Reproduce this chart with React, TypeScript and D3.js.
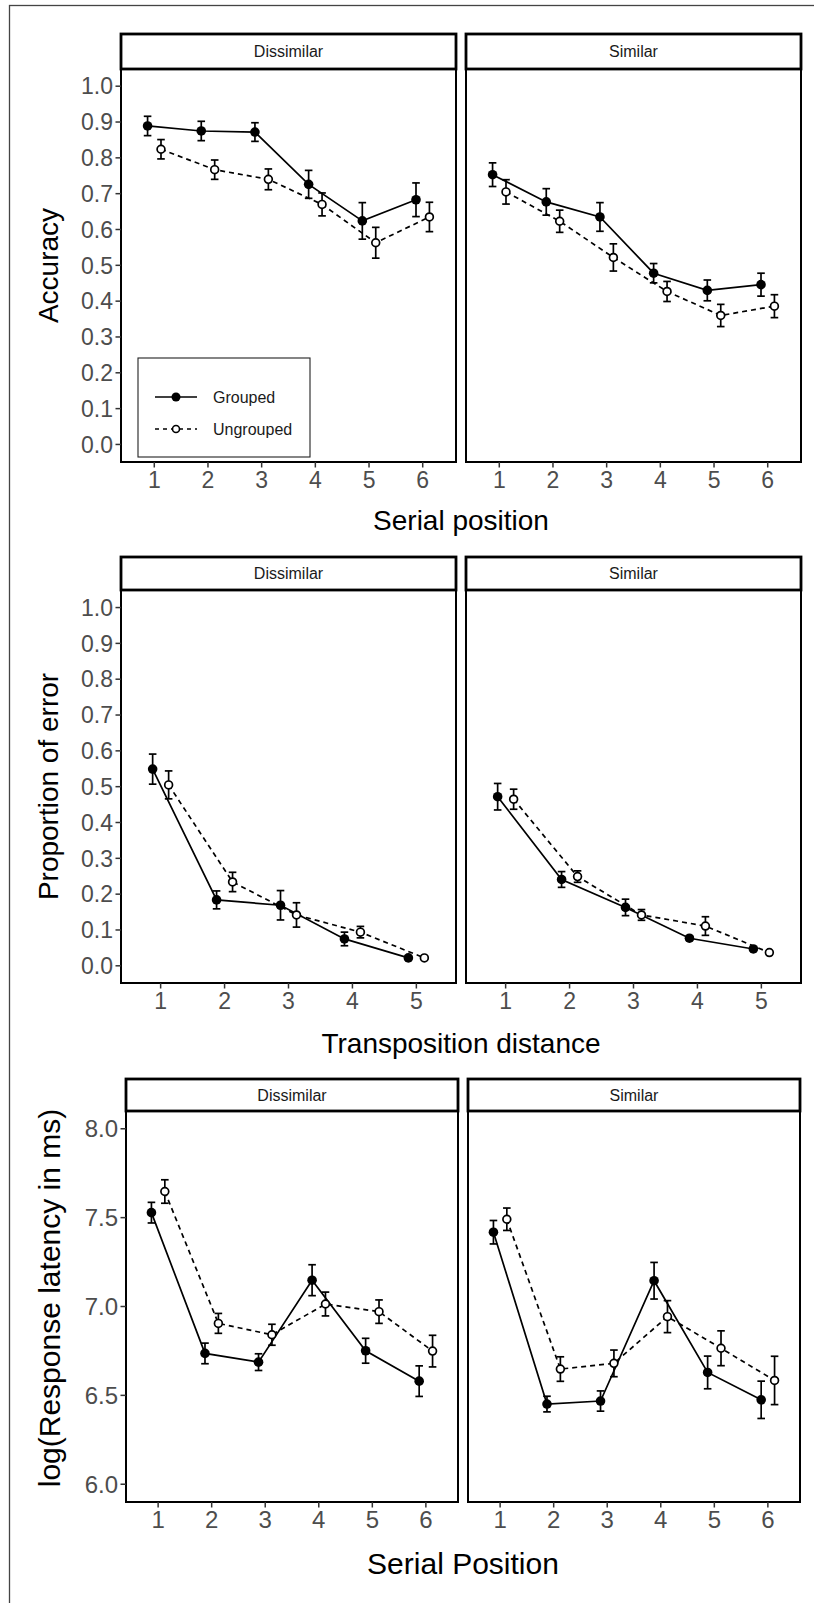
import React from 'react';
import * as d3 from 'd3';

const FONT = '"Liberation Sans", Arial, Helvetica, sans-serif';

// x categories
const serialPositions = [1, 2, 3, 4, 5, 6];
const transDistances = [1, 2, 3, 4, 5];
const conditions = ['Dissimilar', 'Similar'];
const groups = ['Grouped', 'Ungrouped'];

// tick labels
const propTicks = [0, 0.1, 0.2, 0.3, 0.4, 0.5, 0.6, 0.7, 0.8, 0.9, 1.0];
const rtTicks = [6.0, 6.5, 7.0, 7.5, 8.0];

// accuracy (means and error bar half-widths)
const accDisGrouped = [0.889, 0.875, 0.872, 0.726, 0.624, 0.683];
const accDisGroupedErr = [0.027, 0.027, 0.026, 0.039, 0.051, 0.047];
const accDisUngrouped = [0.824, 0.767, 0.74, 0.67, 0.563, 0.635];
const accDisUngroupedErr = [0.027, 0.027, 0.029, 0.032, 0.043, 0.041];
const accSimGrouped = [0.753, 0.677, 0.635, 0.478, 0.43, 0.446];
const accSimGroupedErr = [0.033, 0.037, 0.04, 0.027, 0.029, 0.032];
const accSimUngrouped = [0.705, 0.623, 0.522, 0.427, 0.36, 0.386];
const accSimUngroupedErr = [0.034, 0.031, 0.038, 0.028, 0.031, 0.032];

// proportion of error by transposition distance
const errDisGrouped = [0.549, 0.184, 0.169, 0.075, 0.022];
const errDisGroupedErr = [0.042, 0.025, 0.041, 0.019, 0.005];
const errDisUngrouped = [0.505, 0.234, 0.142, 0.094, 0.022];
const errDisUngroupedErr = [0.039, 0.027, 0.034, 0.016, 0.004];
const errSimGrouped = [0.472, 0.241, 0.163, 0.077, 0.047];
const errSimGroupedErr = [0.037, 0.022, 0.023, 0.006, 0.005];
const errSimUngrouped = [0.465, 0.249, 0.142, 0.111, 0.037];
const errSimUngroupedErr = [0.028, 0.016, 0.015, 0.026, 0.003];

// log response latency
const rtDisGrouped = [7.528, 6.736, 6.687, 7.148, 6.751, 6.58];
const rtDisGroupedErr = [0.058, 0.058, 0.047, 0.087, 0.07, 0.086];
const rtDisUngrouped = [7.647, 6.905, 6.841, 7.014, 6.971, 6.749];
const rtDisUngroupedErr = [0.066, 0.056, 0.059, 0.067, 0.066, 0.089];
const rtSimGrouped = [7.418, 6.451, 6.468, 7.145, 6.629, 6.475];
const rtSimGroupedErr = [0.066, 0.044, 0.057, 0.103, 0.092, 0.105];
const rtSimUngrouped = [7.491, 6.648, 6.68, 6.943, 6.765, 6.584];
const rtSimUngroupedErr = [0.063, 0.069, 0.075, 0.09, 0.098, 0.136];

const DODGE = 0.125;
const fmt = d3.format('.1f');

type PanelProps = {
  left: number;
  right: number;
  stripTop: number;
  top: number;
  bottom: number;
  xDomain: [number, number];
  yDomain: [number, number];
  xs: number[];
  yTicks: number[];
  label: string;
  showY: boolean;
  g: number[];
  gErr: number[];
  u: number[];
  uErr: number[];
  tickSize: number;
};

function Panel(p: PanelProps) {
  const x = d3.scaleLinear().domain(p.xDomain).range([p.left, p.right]);
  const y = d3.scaleLinear().domain(p.yDomain).range([p.bottom, p.top]);
  const line = d3
    .line<[number, number]>()
    .x((d) => x(d[0]))
    .y((d) => y(d[1]));

  const gPts: [number, number][] = p.xs.map((v, i) => [v - DODGE, p.g[i]]);
  const uPts: [number, number][] = p.xs.map((v, i) => [v + DODGE, p.u[i]]);
  const cap = 3.8;

  const errBars = (pts: [number, number][], errs: number[], key: string) =>
    pts.map((d, i) => {
      const cx = x(d[0]);
      const y0 = y(d[1] - errs[i]);
      const y1 = y(d[1] + errs[i]);
      return (
        <g key={key + i} stroke="#000" strokeWidth={1.7}>
          <line x1={cx} x2={cx} y1={y0} y2={y1} />
          <line x1={cx - cap} x2={cx + cap} y1={y0} y2={y0} />
          <line x1={cx - cap} x2={cx + cap} y1={y1} y2={y1} />
        </g>
      );
    });

  return (
    <g>
      {/* strip */}
      <rect
        x={p.left}
        y={p.stripTop}
        width={p.right - p.left}
        height={p.top - p.stripTop}
        fill="#fff"
        stroke="#000"
        strokeWidth={2.8}
      />
      <text
        x={(p.left + p.right) / 2}
        y={(p.stripTop + p.top) / 2 + 5.8}
        textAnchor="middle"
        fontSize={16}
        fill="#1a1a1a"
        fontFamily={FONT}
      >
        {p.label}
      </text>

      {/* data */}
      <path d={line(uPts) || ''} fill="none" stroke="#000" strokeWidth={1.7} strokeDasharray="5,4" />
      <path d={line(gPts) || ''} fill="none" stroke="#000" strokeWidth={1.7} />
      {errBars(uPts, p.uErr, 'ue')}
      {errBars(gPts, p.gErr, 'ge')}
      {uPts.map((d, i) => (
        <circle key={'u' + i} cx={x(d[0])} cy={y(d[1])} r={3.9} fill="#fff" stroke="#000" strokeWidth={1.7} />
      ))}
      {gPts.map((d, i) => (
        <circle key={'g' + i} cx={x(d[0])} cy={y(d[1])} r={4.8} fill="#000" />
      ))}

      {/* panel border */}
      <rect
        x={p.left}
        y={p.top}
        width={p.right - p.left}
        height={p.bottom - p.top}
        fill="none"
        stroke="#000"
        strokeWidth={2}
      />

      {/* x axis */}
      {p.xs.map((v) => (
        <g key={'xt' + v}>
          <line x1={x(v)} x2={x(v)} y1={p.bottom} y2={p.bottom + 5.5} stroke="#333" strokeWidth={1.5} />
          <text
            x={x(v)}
            y={p.bottom + 9}
            dy="0.72em"
            textAnchor="middle"
            fontSize={p.tickSize}
            fill="#4d4d4d"
            fontFamily={FONT}
          >
            {v}
          </text>
        </g>
      ))}

      {/* y axis */}
      {p.showY &&
        p.yTicks.map((v) => (
          <g key={'yt' + v}>
            <line x1={p.left - 5.5} x2={p.left} y1={y(v)} y2={y(v)} stroke="#333" strokeWidth={1.5} />
            <text
              x={p.left - 8}
              y={y(v)}
              dy="0.36em"
              textAnchor="end"
              fontSize={p.tickSize}
              fill="#4d4d4d"
              fontFamily={FONT}
            >
              {fmt(v)}
            </text>
          </g>
        ))}
    </g>
  );
}

function Legend({ x0, y0, w, h }: { x0: number; y0: number; w: number; h: number }) {
  const rows = [y0 + 39, y0 + 71];
  return (
    <g fontFamily={FONT}>
      <rect x={x0} y={y0} width={w} height={h} fill="#fff" stroke="#222" strokeWidth={1.1} />
      {groups.map((name, i) => (
        <g key={name}>
          <line
            x1={x0 + 17}
            x2={x0 + 59}
            y1={rows[i]}
            y2={rows[i]}
            stroke="#000"
            strokeWidth={1.7}
            strokeDasharray={i === 1 ? '4,4' : undefined}
          />
          {i === 0 ? (
            <circle cx={x0 + 38} cy={rows[i]} r={4.5} fill="#000" />
          ) : (
            <circle cx={x0 + 38} cy={rows[i]} r={3.5} fill="#fff" stroke="#000" strokeWidth={1.6} />
          )}
          <text x={x0 + 75} y={rows[i] + 5.5} fontSize={16} fill="#1a1a1a">
            {name}
          </text>
        </g>
      ))}
    </g>
  );
}

type RowProps = {
  stripTop: number;
  top: number;
  bottom: number;
  cols: [number, number][];
  xDomain: [number, number];
  yDomain: [number, number];
  xs: number[];
  yTicks: number[];
  series: number[][][];
  xTitle: string;
  yTitle: string;
  xTitleY: number;
  yTitleX: number;
  yTitleMid?: number;
  titleSize: number;
  tickSize: number;
};

function Row(r: RowProps) {
  const midX = (r.cols[0][0] + r.cols[1][1]) / 2;
  const midY = r.yTitleMid ?? (r.top + r.bottom) / 2;
  return (
    <g>
      {conditions.map((c, i) => (
        <Panel
          key={c}
          left={r.cols[i][0]}
          right={r.cols[i][1]}
          stripTop={r.stripTop}
          top={r.top}
          bottom={r.bottom}
          xDomain={r.xDomain}
          yDomain={r.yDomain}
          xs={r.xs}
          yTicks={r.yTicks}
          label={c}
          showY={i === 0}
          g={r.series[i][0]}
          gErr={r.series[i][1]}
          u={r.series[i][2]}
          uErr={r.series[i][3]}
          tickSize={r.tickSize}
        />
      ))}
      <text x={midX} y={r.xTitleY} textAnchor="middle" fontSize={r.titleSize} fill="#000" fontFamily={FONT}>
        {r.xTitle}
      </text>
      <text
        transform={`translate(${r.yTitleX},${midY}) rotate(-90)`}
        textAnchor="middle"
        fontSize={r.titleSize}
        fill="#000"
        fontFamily={FONT}
      >
        {r.yTitle}
      </text>
    </g>
  );
}

export default function App() {
  return (
    <svg
      width={814}
      height={1603}
      style={{ position: 'absolute', left: 0, top: 0, background: '#fff' }}
    >
      <rect x={0} y={0} width={814} height={1603} fill="#fff" />
      <rect x={9.5} y={5.5} width={900} height={1700} fill="none" stroke="#444" strokeWidth={1.3} />

      <Row
        stripTop={34}
        top={69}
        bottom={462}
        cols={[
          [121, 456],
          [466, 801],
        ]}
        xDomain={[0.38, 6.62]}
        yDomain={[-0.049, 1.048]}
        xs={serialPositions}
        yTicks={propTicks}
        series={[
          [accDisGrouped, accDisGroupedErr, accDisUngrouped, accDisUngroupedErr],
          [accSimGrouped, accSimGroupedErr, accSimUngrouped, accSimUngroupedErr],
        ]}
        xTitle="Serial position"
        yTitle="Accuracy"
        xTitleY={530}
        yTitleX={58}
        titleSize={28}
        tickSize={23}
      />
      <Legend x0={138} y0={358} w={172} h={99} />

      <Row
        stripTop={557}
        top={590}
        bottom={983}
        cols={[
          [121, 456],
          [466, 801],
        ]}
        xDomain={[0.38, 5.62]}
        yDomain={[-0.048, 1.049]}
        xs={transDistances}
        yTicks={propTicks}
        series={[
          [errDisGrouped, errDisGroupedErr, errDisUngrouped, errDisUngroupedErr],
          [errSimGrouped, errSimGroupedErr, errSimUngrouped, errSimUngroupedErr],
        ]}
        xTitle="Transposition distance"
        yTitle="Proportion of error"
        xTitleY={1053}
        yTitleX={58}
        titleSize={28}
        tickSize={23}
      />

      <Row
        stripTop={1079}
        top={1111}
        bottom={1502}
        cols={[
          [126, 458],
          [468, 800],
        ]}
        xDomain={[0.4, 6.6]}
        yDomain={[5.9, 8.1]}
        xs={serialPositions}
        yTicks={rtTicks}
        series={[
          [rtDisGrouped, rtDisGroupedErr, rtDisUngrouped, rtDisUngroupedErr],
          [rtSimGrouped, rtSimGroupedErr, rtSimUngrouped, rtSimUngroupedErr],
        ]}
        xTitle="Serial Position"
        yTitle="log(Response latency in ms)"
        xTitleY={1574}
        yTitleX={60}
        yTitleMid={1298}
        titleSize={30}
        tickSize={24}
      />
    </svg>
  );
}
